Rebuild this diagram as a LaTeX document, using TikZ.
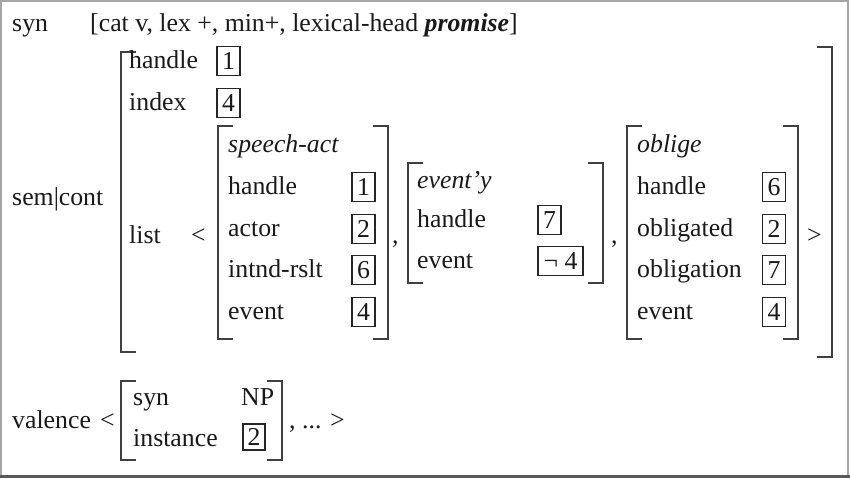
\documentclass[tikz,border=0pt]{standalone}
\usepackage{fontspec}
\setmainfont{Liberation Serif}
\begin{document}
\fontsize{22}{26}\selectfont
\begin{tikzpicture}[x=0.03cm,y=-0.03cm]

\tikzset{
	pics/lbrack/.style args={#1}{code={
	\draw[black!75,line width=1.3pt] (15,0) -- (0,0) -- ++(0,#1) -- ++(15,0);
	},
	}
	}
\tikzset{
	pics/rbrack/.style args={#1}{code={
	\draw[black!75,line width=1.3pt] (-15,0) -- (0,0) -- ++(0,#1) -- ++(-15,0);
	},
	}
	}
\tikzset{
	txt/.style={anchor=base west,inner sep=0pt,text=black!90},
	tag/.style={draw=black!85,line width=1pt,inner sep=0pt,
		minimum width=0.69cm,minimum height=0.87cm,text=black!90},
}
        \useasboundingbox (0,0) rectangle (850,478);
        %FRAME
        \draw[black!35,line width=0.9pt] (1,476) -- (1,1) -- (848,1) -- (848,476);
        \draw[black!65,line width=2pt] (0,476.5) -- (850,476.5);

        %SYN
        \node[txt] (syn) at (12,32) {syn};
        \node[txt] (synval) at (90,32) {[cat v, lex +, min+, lexical-head \textbf{\textit{promise}}]};

        %SEM|CONT
        \node[txt] (semcont) at (12,205) {sem|cont};
        \path (121,52) pic {lbrack={300}};
        \path (832,47) pic {rbrack={310}};
        \node[txt] (hnd) at (129,68) {handle};
        \node[tag] (hndtag) at (228.5,61) {1};
        \node[txt] (idx) at (129,110) {index};
        \node[tag] (idxtag) at (228.5,103) {4};
        \node[txt] (lst) at (129,243) {list};
        \node[txt] (lstopen) at (191,243) {<};

        %speech-act
        \path (218,126) pic {lbrack={213}};
        \path (388,126) pic {rbrack={213}};
        \node[txt] (sa) at (228,152) {\textit{speech-act}};
        \node[txt] (sahnd) at (228,194) {handle};
        \node[tag] (sahndtag) at (363.5,187) {1};
        \node[txt] (saact) at (228,236) {actor};
        \node[tag] (saacttag) at (363.5,229) {2};
        \node[txt] (sares) at (228,277) {intnd-rslt};
        \node[tag] (sarestag) at (363.5,270) {6};
        \node[txt] (saev) at (228,319) {event};
        \node[tag] (saevtag) at (363.5,312) {4};
        \node[txt] (comma1) at (392,243) {,};

        %event'y
        \path (408,163) pic {lbrack={120}};
        \path (603,163) pic {rbrack={120}};
        \node[txt] (ev) at (417,188) {\textit{event’y}};
        \node[txt] (evhnd) at (417,227) {handle};
        \node[tag] (evhndtag) at (549.5,220) {7};
        \node[txt] (evev) at (417,268) {event};
        \node[tag,minimum width=1.35cm] (evevtag) at (560.5,261) {¬ 4};
        \node[txt] (comma2) at (611,243) {,};

        %oblige
        \path (627,126) pic {lbrack={213}};
        \path (798,126) pic {rbrack={213}};
        \node[txt] (ob) at (637,152) {\textit{oblige}};
        \node[txt] (obhnd) at (637,194) {handle};
        \node[tag] (obhndtag) at (774,187) {6};
        \node[txt] (obgd) at (637,236) {obligated};
        \node[tag] (obgdtag) at (774,229) {2};
        \node[txt] (obgn) at (637,277) {obligation};
        \node[tag] (obgntag) at (774,270) {7};
        \node[txt] (obev) at (637,319) {event};
        \node[tag] (obevtag) at (774,312) {4};
        \node[txt] (lstclose) at (807,243) {>};

        %VALENCE
        \node[txt] (val) at (12,428) {valence};
        \node[txt] (valopen) at (100,428) {<};
        \path (121,381) pic {lbrack={79}};
        \path (282,381) pic {rbrack={79}};
        \node[txt] (vsyn) at (133,405) {syn};
        \node[txt] (vnp) at (241,405) {NP};
        \node[txt] (vinst) at (133,446) {instance};
        \node[tag,minimum height=0.78cm,minimum width=0.66cm] (vinsttag) at (254,437) {2};
        \node[txt] (valrest) at (289,428) {, ... >};
    \end{tikzpicture}
\end{document}
